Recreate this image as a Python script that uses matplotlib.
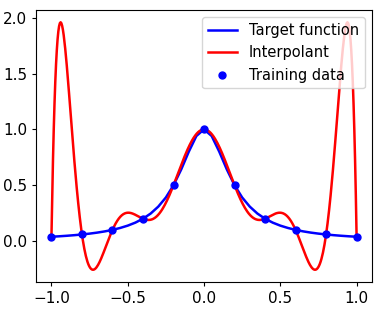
# Runge example: target function, polynomial interpolant and training points
import numpy as np
import matplotlib
matplotlib.use("Agg")
import matplotlib.pyplot as plt

# training data (11 equally spaced points)
train_x = [-1.0, -0.8, -0.6, -0.4, -0.2, 0.0, 0.2, 0.4, 0.6, 0.8, 1.0]
train_y = [0.038, 0.059, 0.100, 0.200, 0.500, 1.000, 0.500, 0.200, 0.100, 0.059, 0.038]

# target curve, read at steps of 0.05
target_x = [-1.0, -0.95, -0.9, -0.85, -0.8, -0.75, -0.7, -0.65, -0.6, -0.55, -0.5,
            -0.45, -0.4, -0.35, -0.3, -0.25, -0.2, -0.15, -0.1, -0.05, 0.0,
            0.05, 0.1, 0.15, 0.2, 0.25, 0.3, 0.35, 0.4, 0.45, 0.5,
            0.55, 0.6, 0.65, 0.7, 0.75, 0.8, 0.85, 0.9, 0.95, 1.0]
target_y = [0.0385, 0.0424, 0.0471, 0.0525, 0.0588, 0.0664, 0.0755, 0.0865, 0.100, 0.117, 0.138,
            0.165, 0.200, 0.246, 0.308, 0.390, 0.500, 0.640, 0.800, 0.941, 1.000,
            0.941, 0.800, 0.640, 0.500, 0.390, 0.308, 0.246, 0.200, 0.165, 0.138,
            0.117, 0.100, 0.0865, 0.0755, 0.0664, 0.0588, 0.0525, 0.0471, 0.0424, 0.0385]

# interpolating polynomial through the training points
coeffs = np.polyfit(train_x, train_y, len(train_x) - 1)
xs = np.linspace(min(train_x), max(train_x), 400)
interp_y = np.polyval(coeffs, xs)

plt.rcParams['font.size'] = 11

fig = plt.figure(figsize=(3.81, 3.10), dpi=100)
ax = fig.add_axes([0.095, 0.09, 0.881, 0.878])

ax.plot(target_x, target_y, 'b-', linewidth=1.8, label='Target function')
ax.plot(xs, interp_y, 'r-', linewidth=1.8, label='Interpolant')
ax.plot(train_x, train_y, 'bo', markersize=5, label='Training data')

ax.set_xticks([-1.0, -0.5, 0.0, 0.5, 1.0])
ax.set_yticks([0.0, 0.5, 1.0, 1.5, 2.0])
ax.tick_params(labelsize=11, length=3, width=0.8)
for s in ax.spines.values():
    s.set_linewidth(0.8)
ax.legend(loc='upper right', fontsize=10.5, framealpha=0.8, borderaxespad=0.5)

fig.savefig("out.png", dpi=100)
